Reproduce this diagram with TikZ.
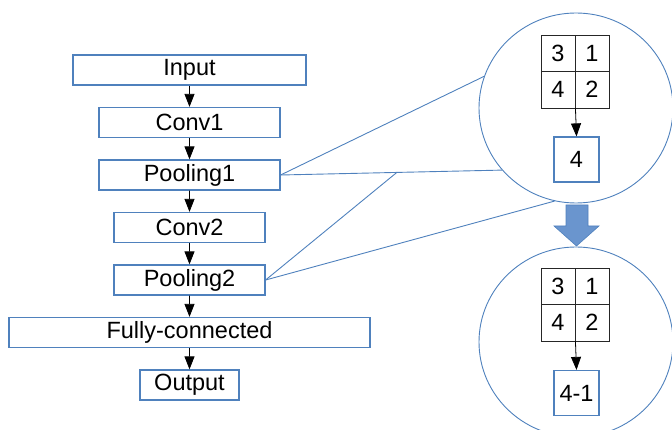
\documentclass[tikz,border=0pt]{standalone}
\usepackage{fontspec}
\setmainfont{Liberation Sans}
\usetikzlibrary{arrows.meta,shapes.geometric,calc}
\definecolor{boxblue}{RGB}{79,129,189}
\definecolor{arrowblue}{RGB}{106,149,206}

\begin{document}
\begin{tikzpicture}[
  x=1pt, y=-1pt,
  font=\fontsize{23.5}{28}\selectfont,
  level distance=52.5pt,
  layer/.style = {shape=rectangle, draw=boxblue, line width=1.2pt,
    minimum height=30pt, inner sep=0pt},
  cell/.style = {shape=rectangle, draw=black!85, line width=0.9pt,
    minimum width=34pt, minimum height=36.5pt, inner sep=0pt},
  result/.style = {layer, minimum width=45pt, minimum height=45pt},
  lens/.style = {shape=ellipse, draw=boxblue, line width=0.9pt,
    minimum width=194pt, minimum height=190pt, inner sep=0pt},
  zoomline/.style = {draw=boxblue, line width=0.9pt},
  tip/.style = {draw, line width=0.8pt, -{Triangle[width=10pt,length=13pt]}},
  edge from parent/.style = {tip}
  ]
  \useasboundingbox (0,0) rectangle (672,430);

  % network layers
  \node (input) [layer, minimum width=233pt] at (189.5,70) {Input}
    child { node (conv1) [layer, minimum width=181pt] {Conv1}
      child { node (pool1) [layer, minimum width=181pt] {Pooling1}
        child { node (conv2) [layer, minimum width=151pt] {Conv2}
          child { node (pool2) [layer, minimum width=151pt] {Pooling2}
            child { node (fc) [layer, minimum width=361pt] {Fully-connected}
              child { node (output) [layer, minimum width=99pt] {Output} }
            }
          }
        }
      }
    };

  % magnified pooling
  \node (lensA) [lens] at (576,108) {};
  \node (lensB) [lens] at (576,342) {};

  \node (a11) [cell] at (558,53.25) {3};
  \node (a12) [cell] at (592,53.25) {1};
  \node (a21) [cell] at (558,89.75) {4};
  \node (a22) [cell] at (592,89.75) {2};
  \node (resA) [result] at (576.5,159.5) {4};
  \draw[tip] (a21.south east) -- (resA.north);

  \node (b11) [cell] at (558,286.25) {3};
  \node (b12) [cell] at (592,286.25) {1};
  \node (b21) [cell] at (558,322.75) {4};
  \node (b22) [cell] at (592,322.75) {2};
  \node (resB) [result] at (576.5,393) {4-1};
  \draw[tip] (b21.south east) -- (resB.north);

  \fill[arrowblue, draw=boxblue, line width=0.6pt]
    (566,205) -- (588,205) -- (588,226) -- (599,226) -- (576.5,246)
    -- (554,226) -- (566,226) -- cycle;

  % zoom lines
  \draw[zoomline] (pool1.east) -- (lensA.161);
  \draw[zoomline] (pool1.east) -- (lensA.220);
  \coordinate (meet) at ($(pool1.east)!0.525!(lensA.220)$);
  \draw[zoomline] (pool2.east) -- (meet);
  \draw[zoomline] (pool2.east) -- (lensA.257);
\end{tikzpicture}
\end{document}
